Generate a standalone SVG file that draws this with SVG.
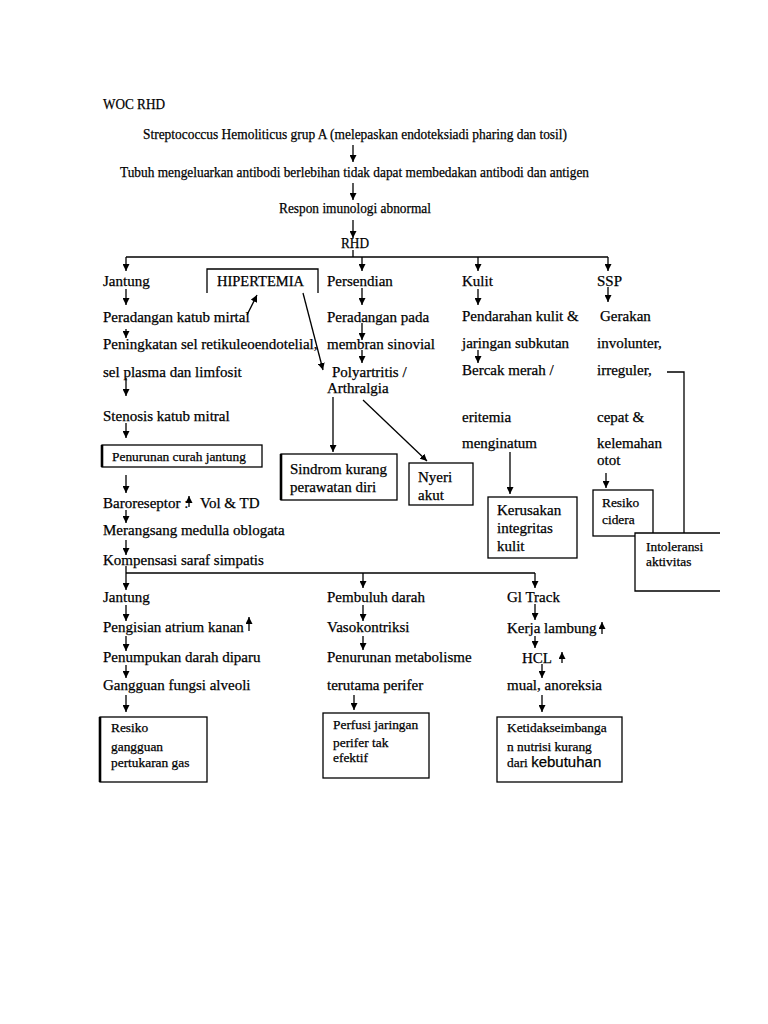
<svg xmlns="http://www.w3.org/2000/svg" width="768" height="1024" viewBox="0 0 768 1024">
<defs>
<marker id="ah" viewBox="0 0 10 10" refX="10" refY="5" markerWidth="7" markerHeight="7" markerUnits="userSpaceOnUse" orient="auto">
<path d="M0,0 L10,5 L0,10 z" fill="#000"/>
</marker>
<style>
text{font-family:"Liberation Serif","Times New Roman",serif;fill:#000;stroke:#000;stroke-width:0.25}
.t{font-size:15px}
.s{font-size:15px}
.b{font-size:13.4px}
.sans{font-family:"Liberation Sans",Arial,sans-serif;font-size:15px}
.c{fill:none;stroke:#000;stroke-width:1.3}
.a{fill:none;stroke:#000;stroke-width:1.3;marker-end:url(#ah)}
.bx{fill:#fff;stroke:#000;stroke-width:1.3}
.th{stroke:#000;stroke-width:2.6}
</style>
</defs>
<rect width="768" height="1024" fill="#fff"/>

<g id="connectors">
<path class="a" d="M353,145 V162"/>
<path class="a" d="M353,183 V200"/>
<path class="a" d="M353,220 V238"/>
<path class="c" d="M353,250 V257"/>
<path class="c" d="M126,257 H608" stroke="#333"/>
<path class="a" d="M126,257 V271"/>
<path class="a" d="M362,257 V271"/>
<path class="a" d="M478,257 V271"/>
<path class="a" d="M608,257 V271"/>
<path class="a" d="M126,289 V305"/>
<path class="a" d="M126,329 V338"/>
<path class="a" d="M126,378 V396"/>
<path class="a" d="M126,423 V438"/>
<path class="a" d="M126,475 V493"/>
<path class="a" d="M126,510 V523"/>
<path class="a" d="M126,540 V555"/>
<path class="a" d="M126,566 V590"/>
<path class="c" d="M126,573 H535"/>
<path class="a" d="M363,573 V588"/>
<path class="a" d="M535,573 V588"/>
<path class="a" d="M247,315 L257,295"/>
<path class="a" d="M303,293 L323,370"/>
<path class="a" d="M362,288 V305"/>
<path class="a" d="M362,323 V340"/>
<path class="a" d="M362,350 V363"/>
<path class="a" d="M333,397 V452"/>
<path class="a" d="M363,400 L427,461"/>
<path class="a" d="M478,289 V305"/>
<path class="a" d="M478,350 V363"/>
<path class="a" d="M510,452 V494"/>
<path class="a" d="M608,287 V302"/>
<path class="a" d="M606,473 V488"/>
<path class="c" d="M667,372 H684 V533"/>
<path class="a" d="M189,507 V496"/>
<path class="a" d="M126,605 V621"/>
<path class="a" d="M126,636 V651"/>
<path class="a" d="M126,665 V678"/>
<path class="a" d="M126,695 V712"/>
<path class="a" d="M249,631 V617"/>
<path class="a" d="M363,605 V621"/>
<path class="a" d="M363,636 V650"/>
<path class="a" d="M354,695 V710"/>
<path class="a" d="M535,604 V620"/>
<path class="a" d="M535,636 V648"/>
<path class="a" d="M542,664 V678"/>
<path class="a" d="M542,695 V712"/>
<path class="a" d="M602,634 V622"/>
<path class="a" d="M562,663 V652"/>
</g>

<g id="title"><text class="s" x="103" y="109" textLength="62" lengthAdjust="spacingAndGlyphs">WOC RHD</text></g>
<g id="n-strep"><text class="s" x="143" y="139" textLength="424" lengthAdjust="spacingAndGlyphs">Streptococcus Hemoliticus grup A (melepaskan endoteksiadi pharing dan tosil)</text></g>
<g id="n-tubuh"><text class="s" x="120" y="177" textLength="469" lengthAdjust="spacingAndGlyphs">Tubuh mengeluarkan antibodi berlebihan tidak dapat membedakan antibodi dan antigen</text></g>
<g id="n-respon"><text class="s" x="279" y="213" textLength="152" lengthAdjust="spacingAndGlyphs">Respon imunologi abnormal</text></g>
<g id="n-rhd"><text class="s" x="341" y="248" textLength="28" lengthAdjust="spacingAndGlyphs">RHD</text></g>

<g id="n-jantung-col">
<text class="t" x="103" y="286">Jantung</text>
<text class="t" x="103" y="322">Peradangan katub mirtal</text>
<text class="t" x="103" y="349">Peningkatan sel retikuleoendotelial,</text>
<text class="t" x="103" y="377">sel plasma dan limfosit</text>
<text class="t" x="103" y="421">Stenosis katub mitral</text>
</g>
<g id="n-hipertemia">
<path class="c" d="M207,293 V269 H318 V293"/>
<text style="font-size:14.5px" x="217" y="286">HIPERTEMIA</text>
</g>
<g id="n-penurunan-curah">
<rect class="bx" x="102" y="445" width="160" height="22"/>
<path class="th" d="M102,445 V467"/>
<text class="b" x="112" y="461">Penurunan curah jantung</text>
</g>
<g id="n-baro">
<text class="t" x="103" y="508">Baroreseptor :</text>
<text class="t" x="200" y="508">Vol &amp; TD</text>
<text class="t" x="103" y="535">Merangsang medulla oblogata</text>
<text class="t" x="103" y="565">Kompensasi saraf simpatis</text>
</g>

<g id="n-persendian">
<text class="t" x="327" y="286">Persendian</text>
<text class="t" x="327" y="322">Peradangan pada</text>
<text class="t" x="327" y="349">membran sinovial</text>
<text class="t" x="332" y="377">Polyartritis /</text>
<text class="t" x="327" y="393">Arthralgia</text>
</g>
<g id="n-sindrom">
<rect class="bx" x="281" y="454" width="116" height="46"/>
<path class="th" d="M281,454 V500"/>
<text class="t" x="290" y="474">Sindrom kurang</text>
<text class="t" x="290" y="492">perawatan diri</text>
</g>
<g id="n-nyeri">
<rect class="bx" x="409" y="463" width="64" height="42"/>
<text class="t" x="418" y="482">Nyeri</text>
<text class="t" x="418" y="500">akut</text>
</g>

<g id="n-kulit">
<text class="t" x="462" y="286">Kulit</text>
<text class="t" x="462" y="321">Pendarahan kulit &amp;</text>
<text class="t" x="462" y="348">jaringan subkutan</text>
<text class="t" x="462" y="375">Bercak merah /</text>
<text class="t" x="462" y="422">eritemia</text>
<text class="t" x="462" y="448">menginatum</text>
</g>
<g id="n-kerusakan">
<rect class="bx" x="488" y="497" width="89" height="61"/>
<text class="t" x="497" y="515">Kerusakan</text>
<text class="t" x="497" y="533">integritas</text>
<text class="t" x="497" y="551">kulit</text>
</g>

<g id="n-ssp">
<text class="t" x="597" y="286">SSP</text>
<text class="t" x="600" y="321">Gerakan</text>
<text class="t" x="597" y="348">involunter,</text>
<text class="t" x="597" y="375">irreguler,</text>
<text class="t" x="597" y="422">cepat &amp;</text>
<text class="t" x="597" y="448">kelemahan</text>
<text class="t" x="597" y="465">otot</text>
</g>
<g id="n-resiko-cidera">
<rect class="bx" x="593" y="490" width="60" height="46"/>
<text class="b" x="602" y="507">Resiko</text>
<text class="b" x="602" y="524">cidera</text>
</g>
<g id="n-intoleransi">
<path class="bx" d="M720,533 H635 V591 H720"/>
<text class="b" x="646" y="551">Intoleransi</text>
<text class="b" x="646" y="566">aktivitas</text>
</g>

<g id="n-jantung2">
<text class="t" x="103" y="602">Jantung</text>
<text class="t" x="103" y="632">Pengisian atrium kanan</text>
<text class="t" x="103" y="662">Penumpukan darah diparu</text>
<text class="t" x="103" y="690">Gangguan fungsi alveoli</text>
</g>
<g id="n-resiko-gas">
<rect class="bx" x="100" y="717" width="107" height="65"/>
<path class="th" d="M100,717 V782"/>
<text class="b" x="111" y="732">Resiko</text>
<text class="b" x="111" y="751">gangguan</text>
<text class="b" x="111" y="767">pertukaran gas</text>
</g>

<g id="n-pembuluh">
<text class="t" x="327" y="602">Pembuluh darah</text>
<text class="t" x="327" y="632">Vasokontriksi</text>
<text class="t" x="327" y="662">Penurunan metabolisme</text>
<text class="t" x="327" y="690">terutama perifer</text>
</g>
<g id="n-perfusi">
<rect class="bx" x="323" y="713" width="106" height="65"/>
<text class="b" x="333" y="729">Perfusi jaringan</text>
<text class="b" x="333" y="747">perifer tak</text>
<text class="b" x="333" y="762">efektif</text>
</g>

<g id="n-gi">
<text class="t" x="507" y="602">Gl Track</text>
<text class="t" x="507" y="633">Kerja lambung</text>
<text class="t" x="522" y="663">HCL</text>
<text class="t" x="507" y="690">mual, anoreksia</text>
</g>
<g id="n-nutrisi">
<rect class="bx" x="497" y="717" width="125" height="65"/>
<text class="b" x="507" y="732">Ketidakseimbanga</text>
<text class="b" x="507" y="751">n nutrisi kurang</text>
<text class="b" x="507" y="767">dari <tspan class="sans">kebutuhan</tspan></text>
</g>
</svg>
